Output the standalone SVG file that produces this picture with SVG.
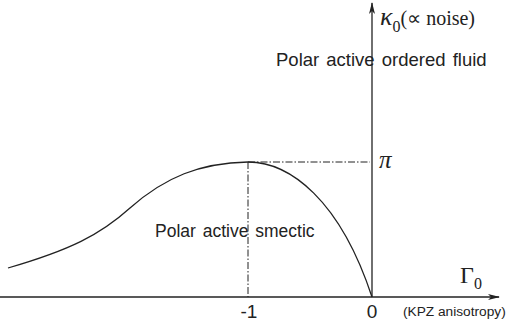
<svg xmlns="http://www.w3.org/2000/svg" width="508" height="323" viewBox="0 0 508 323">
<defs>
<style>
.ax{stroke:#222;stroke-width:1.3;fill:none}
.dd{stroke:#222;stroke-width:1;fill:none;stroke-dasharray:7,2,1.5,2}
.lbl{font-family:"Liberation Sans",Arial,sans-serif;fill:#222}
.sym{font-family:"Liberation Serif","Times New Roman",serif;fill:#222}
</style>
<marker id="ah" markerWidth="12" markerHeight="8" refX="11" refY="4" orient="auto" markerUnits="userSpaceOnUse">
<path d="M0,1 L12,4 L0,7 L3,4 Z" fill="#222"/>
</marker>
</defs>
<rect width="508" height="323" fill="#fff"/>
<g id="connectors">
<line class="ax" x1="0" y1="297" x2="499" y2="297" marker-end="url(#ah)"/>
<line class="ax" x1="372" y1="297" x2="372" y2="3" marker-end="url(#ah)"/>
<line class="dd" x1="248" y1="162" x2="370" y2="162"/>
<line class="dd" x1="248" y1="162" x2="248" y2="297"/>
<path class="ax" d="M8,268 C70,250 100,235 130,208 C165,177 200,163 248,162 C290,162 340,200 372,297"/>
</g>
<g id="kappa"><text class="sym" x="380" y="25" font-size="26" font-style="italic">κ<tspan font-size="16" font-style="normal" dy="7">0</tspan><tspan font-size="20" font-style="normal" dy="-7">(∝ noise)</tspan></text></g>
<g id="fluid"><text class="lbl" x="276" y="66" font-size="18.5" word-spacing="2">Polar active ordered fluid</text></g>
<g id="pi"><text class="sym" x="379" y="168" font-size="25" font-style="italic">π</text></g>
<g id="smectic"><text class="lbl" x="155" y="237" font-size="17.5" word-spacing="2">Polar active smectic</text></g>
<g id="gamma"><text class="sym" x="460" y="283" font-size="24">Γ<tspan font-size="16" dy="6">0</tspan></text></g>
<g id="minus1"><text class="lbl" x="249" y="318" text-anchor="middle" font-size="19">-1</text></g>
<g id="zero"><text class="lbl" x="372" y="318" text-anchor="middle" font-size="19">0</text></g>
<g id="kpz"><text class="lbl" x="403" y="316" font-size="13.7">(KPZ anisotropy)</text></g>
</svg>
